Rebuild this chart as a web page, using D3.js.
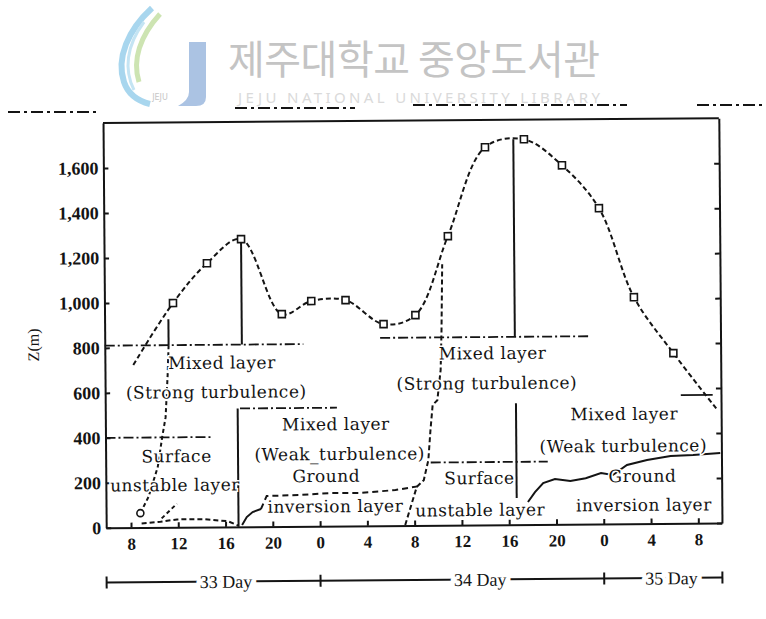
<!DOCTYPE html>
<html>
<head>
<meta charset="utf-8">
<script src="https://cdn.jsdelivr.net/npm/d3@7"></script>
<style>
body { margin: 0; background: #fff; }
svg { display: block; }
</style>
</head>
<body>
<script>
/*
 * Mixed layer / surface layer / ground inversion heights over days 33-35.
 * Hours are counted from 00:00 of day 33, heights are in metres.
 */

var tickHours = [8, 12, 16, 20, 24, 28, 32, 36, 40, 44, 48, 52, 56];
var heightTicks = [0, 200, 400, 600, 800, 1000, 1200, 1400, 1600];

// top of the mixed layer (dashed, open squares)
var mixHours = [8.3, 11.7, 14.6, 17.5, 20.9, 23.4, 26.3, 29.5, 32.2, 35.0, 38.2, 41.5, 44.7, 47.8, 50.7, 54.0, 57.7];
var mixHeights = [723, 997, 1173, 1279, 944, 1001, 1004, 896, 935, 1285, 1679, 1713, 1596, 1404, 1007, 757, 502];

// surface unstable layer, morning of day 33
var sfc33Hours = [8.8, 9.5, 10.3, 10.7, 11.0, 11.2, 11.3];
var sfc33Heights = [64, 136, 268, 402, 490, 677, 810];

// thin layer near the ground, day 33
var low33Hours = [8.9, 10.5, 11.9, 14.2, 16.2, 17.1];
var low33Heights = [18, 25, 35, 35, 25, 5];
var rise33Hours = [10.6, 11.9];
var rise33Heights = [40, 105];

// ground inversion, night 33/34
var inv33Hours = [17.4, 17.8, 18.3, 19.0];
var inv33Heights = [8, 43, 65, 78];
var inv33bHours = [19.0, 19.5, 22.3, 24.9, 27.4, 30.4, 32.5];
var inv33bHeights = [78, 136, 139, 147, 146, 158, 175];

// surface unstable layer, morning of day 34
var sfc34Hours = [31.2, 32.2, 32.8, 33.2, 33.4, 33.6, 34.0, 34.3, 34.4, 34.5];
var sfc34Heights = [2, 171, 201, 290, 424, 535, 556, 690, 867, 1160];

// ground inversion, night 34/35
var inv34Hours = [41.6, 42.2, 42.9, 43.9, 45.2, 46.5, 47.8, 48.8, 50.0, 51.7, 53.7, 55.6, 57.9];
var inv34Heights = [100, 144, 184, 201, 192, 204, 226, 217, 261, 283, 300, 303, 311];

// horizontal layer boundaries
var boundStart = [5.9, 29.2, 5.9, 17.3, 33.4];
var boundEnd = [22.7, 47.0, 14.8, 25.5, 43.3];
var boundHeight = [810, 835, 400, 526, 279];
var shelfStart = [54.6];
var shelfEnd = [57.3];
var shelfHeight = [570];

// vertical separators
var sepHours = [11.3, 17.5, 17.1, 40.6, 40.65];
var sepBottom = [810, 810, 0, 835, 118];
var sepTop = [925, 1279, 526, 1714, 540];

// region names
var labelText = ['Mixed layer', '(Strong turbulence)', 'Surface', 'unstable layer',
                 'Mixed layer', '(Weak_turbulence)', 'Ground', 'inversion layer',
                 'Mixed layer', '(Strong turbulence)', 'Surface', 'unstable layer',
                 'Mixed layer', '(Weak turbulence)', 'Ground', 'inversion layer'];
var labelHours = [15.8, 15.3, 11.9, 11.75, 25.4, 25.7, 24.55, 25.3,
                  38.7, 38.2, 37.5, 37.55, 49.8, 49.7, 51.3, 51.4];
var labelHeights = [730, 600, 316, 188, 453, 320, 223, 88,
                    763, 630, 208, 66, 488, 346, 212, 83];

// day bar under the time axis
var dayText = ['33 Day', '34 Day', '35 Day'];
var dayHours = [16, 37.5, 53.7];
var dayBreaks = [24, 48];
var dayEnds = [5.9, 58];

var width = 766,
    height = 619,
    // plot frame before the slight tilt of the scan
    frame = {left: 104.6, right: 720.4, top: 120.6, bottom: 525.4},
    tilt = -0.45,
    dayBarY = 580,
    ink = '#141414',
    serif = '"DejaVu Serif", serif',
    digits = '"Liberation Serif", "Times New Roman", serif';

var pairs = function(hs, zs) {
    return hs.map(function(h, i) { return [h, zs[i]]; });
};

var svg = d3.select('body')
    .append('svg')
    .attr('width', width)
    .attr('height', height);

svg.append('rect')
    .attr('width', width)
    .attr('height', height)
    .attr('fill', '#fff');

var x = d3.scaleLinear().domain([5.9, 58]).range([frame.left, frame.right]);
var y = d3.scaleLinear().domain([0, 1800]).range([frame.bottom, frame.top]);

var line = d3.line()
    .x(function(d) { return x(d[0]); })
    .y(function(d) { return y(d[1]); });

var smooth = d3.line()
    .x(function(d) { return x(d[0]); })
    .y(function(d) { return y(d[1]); })
    .curve(d3.curveCatmullRom.alpha(0.5));

/** remains of a ruled header line on the scanned page **/
var header = svg.append('g')
    .attr('stroke', ink)
    .attr('stroke-width', 2)
    .attr('stroke-dasharray', '12,4,3,4');
[[8, 100, 112], [235, 355, 108], [413, 627, 105], [697, 766, 105]].forEach(function(s) {
    header.append('line')
        .attr('x1', s[0]).attr('x2', s[1])
        .attr('y1', s[2]).attr('y2', s[2]);
});

var g = svg.append('g')
    .attr('transform', 'rotate(' + tilt + ',413,323)');

/** axes **/

var yAxis = d3.axisLeft(y)
    .tickValues(heightTicks)
    .tickFormat(d3.format(','))
    .tickSizeInner(-5)
    .tickSizeOuter(0)
    .tickPadding(5);

var yg = g.append('g')
    .attr('transform', 'translate(' + frame.left + ',0)')
    .call(yAxis);

var rg = g.append('g')
    .attr('transform', 'translate(' + frame.right + ',0)')
    .call(d3.axisLeft(y).tickValues(heightTicks).tickFormat('').tickSizeInner(5).tickSizeOuter(0));

var xAxis = d3.axisBottom(x)
    .tickValues(tickHours)
    .tickFormat(function(h) { return h % 24; })
    .tickSizeInner(-5)
    .tickSizeOuter(0)
    .tickPadding(10);

var xg = g.append('g')
    .attr('transform', 'translate(0,' + frame.bottom + ')')
    .call(xAxis);

[yg, rg, xg].forEach(function(a) {
    a.selectAll('path, line').attr('stroke', ink).attr('stroke-width', 2);
    a.selectAll('text')
        .attr('fill', ink)
        .attr('font-family', digits)
        .attr('font-weight', 'bold');
});
yg.selectAll('text').attr('font-size', 18);
xg.selectAll('text').attr('font-size', 17);

g.append('line')
    .attr('x1', frame.left).attr('x2', frame.right)
    .attr('y1', frame.top).attr('y2', frame.top)
    .attr('stroke', ink)
    .attr('stroke-width', 2);

g.append('text')
    .attr('transform', 'translate(33,342) rotate(-90)')
    .attr('text-anchor', 'middle')
    .attr('dy', '0.35em')
    .attr('font-family', digits)
    .attr('font-size', 16)
    .attr('fill', ink)
    .text('Z(m)');

/** layer boundaries and separators **/

g.selectAll('.bound')
    .data(boundHeight)
    .enter().append('line')
    .attr('class', 'bound')
    .attr('x1', function(d, i) { return x(boundStart[i]); })
    .attr('x2', function(d, i) { return x(boundEnd[i]); })
    .attr('y1', function(d) { return y(d); })
    .attr('y2', function(d) { return y(d); })
    .attr('stroke', ink)
    .attr('stroke-width', 1.8)
    .attr('stroke-dasharray', '10,3,2,3');

g.selectAll('.shelf')
    .data(shelfHeight)
    .enter().append('line')
    .attr('class', 'shelf')
    .attr('x1', function(d, i) { return x(shelfStart[i]); })
    .attr('x2', function(d, i) { return x(shelfEnd[i]); })
    .attr('y1', function(d) { return y(d); })
    .attr('y2', function(d) { return y(d); })
    .attr('stroke', ink)
    .attr('stroke-width', 1.8);

g.selectAll('.sep')
    .data(sepHours)
    .enter().append('line')
    .attr('class', 'sep')
    .attr('x1', function(d) { return x(d); })
    .attr('x2', function(d) { return x(d); })
    .attr('y1', function(d, i) { return y(sepBottom[i]); })
    .attr('y2', function(d, i) { return y(sepTop[i]); })
    .attr('stroke', ink)
    .attr('stroke-width', 2);

/** secondary layer heights **/

var traces = [
    {pts: pairs(sfc33Hours, sfc33Heights), dash: '4,3'},
    {pts: pairs(low33Hours, low33Heights), dash: '5,3'},
    {pts: pairs(rise33Hours, rise33Heights), dash: '4,3'},
    {pts: pairs(inv33Hours, inv33Heights), dash: null},
    {pts: pairs(inv33bHours, inv33bHeights), dash: '6,4'},
    {pts: pairs(sfc34Hours, sfc34Heights), dash: '5,3'},
    {pts: pairs(inv34Hours, inv34Heights), dash: null}
];

traces.forEach(function(t) {
    g.append('path')
        .attr('d', line(t.pts))
        .attr('fill', 'none')
        .attr('stroke', ink)
        .attr('stroke-width', 2)
        .attr('stroke-dasharray', t.dash);
});

g.append('circle')
    .attr('cx', x(sfc33Hours[0]))
    .attr('cy', y(sfc33Heights[0]))
    .attr('r', 3.5)
    .attr('fill', '#fff')
    .attr('stroke', ink)
    .attr('stroke-width', 1.6);

/** mixed layer height **/

var mix = pairs(mixHours, mixHeights);

g.append('path')
    .attr('d', smooth(mix))
    .attr('fill', 'none')
    .attr('stroke', ink)
    .attr('stroke-width', 2)
    .attr('stroke-dasharray', '5,3');

g.selectAll('.obs')
    .data(mix.slice(1, mix.length - 1))
    .enter().append('rect')
    .attr('class', 'obs')
    .attr('x', function(d) { return x(d[0]) - 3.5; })
    .attr('y', function(d) { return y(d[1]) - 3.5; })
    .attr('width', 7)
    .attr('height', 7)
    .attr('fill', '#fff')
    .attr('stroke', ink)
    .attr('stroke-width', 1.6);

/** region names **/

g.selectAll('.region')
    .data(labelText)
    .enter().append('text')
    .attr('class', 'region')
    .attr('x', function(d, i) { return x(labelHours[i]); })
    .attr('y', function(d, i) { return y(labelHeights[i]); })
    .attr('dy', '0.35em')
    .attr('text-anchor', 'middle')
    .attr('font-family', serif)
    .attr('font-size', 17)
    .attr('letter-spacing', 0.5)
    .attr('fill', ink)
    .attr('stroke', '#fff')
    .attr('stroke-width', 3)
    .attr('paint-order', 'stroke')
    .text(function(d) { return d; });

/** day bar **/

var dayBar = g.append('g').attr('stroke', ink).attr('stroke-width', 2);

dayBar.append('line')
    .attr('x1', x(dayEnds[0])).attr('x2', x(dayEnds[1]))
    .attr('y1', dayBarY).attr('y2', dayBarY);

dayBar.selectAll('.cap')
    .data(dayEnds.concat(dayBreaks))
    .enter().append('line')
    .attr('x1', function(d) { return x(d); })
    .attr('x2', function(d) { return x(d); })
    .attr('y1', dayBarY - 6)
    .attr('y2', dayBarY + 6);

g.selectAll('.day')
    .data(dayText)
    .enter().append('text')
    .attr('class', 'day')
    .attr('x', function(d, i) { return x(dayHours[i]); })
    .attr('y', dayBarY)
    .attr('dy', '0.35em')
    .attr('text-anchor', 'middle')
    .attr('font-family', digits)
    .attr('font-size', 18)
    .attr('fill', ink)
    .attr('stroke', '#fff')
    .attr('stroke-width', 8)
    .attr('paint-order', 'stroke')
    .text(function(d) { return d; });

/** library watermark **/

var mark = svg.append('g').attr('fill', 'none');

mark.append('path')
    .attr('d', 'M152,8 C128,30 116,58 124,82 C128,94 138,101 150,104')
    .attr('stroke', '#a8d6ee').attr('stroke-width', 6);
mark.append('path')
    .attr('d', 'M160,14 C140,36 132,60 139,82')
    .attr('stroke', '#cde4b2').attr('stroke-width', 5);
mark.append('path')
    .attr('d', 'M144,22 C126,46 124,70 134,90')
    .attr('stroke', '#c4e4f3').attr('stroke-width', 3);
mark.append('path')
    .attr('d', 'M189,42 L206,42 L206,97 Q206,106 196,106 L178,106 Q189,100 189,92 Z')
    .attr('fill', '#abc3e3');
mark.append('text')
    .attr('x', 160).attr('y', 100)
    .attr('text-anchor', 'middle')
    .attr('font-family', '"DejaVu Sans", sans-serif')
    .attr('font-size', 8)
    .attr('fill', '#c6c6c6')
    .text('JEJU');

mark.append('text')
    .attr('x', 228).attr('y', 74)
    .attr('font-family', '"Noto Sans CJK KR", sans-serif')
    .attr('font-size', 40)
    .attr('textLength', 372)
    .attr('fill', '#c4c4c4')
    .text('제주대학교 중앙도서관');

mark.append('text')
    .attr('x', 238).attr('y', 103)
    .attr('font-family', '"Noto Sans", sans-serif')
    .attr('font-size', 15)
    .attr('textLength', 362)
    .attr('fill', '#dadada')
    .text('JEJU NATIONAL UNIVERSITY LIBRARY');
</script>
</body>
</html>
